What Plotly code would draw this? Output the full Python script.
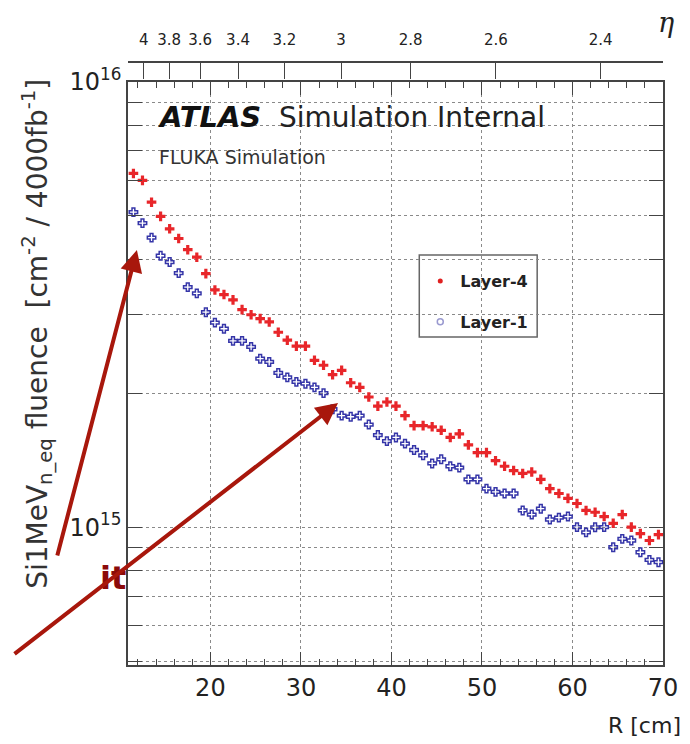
import numpy as np
import plotly.graph_objects as go

# Radial bin centres [cm]
r_cm = [11.5, 12.5, 13.5, 14.5, 15.5, 16.5, 17.5, 18.5, 19.5, 20.5,
        21.5, 22.5, 23.5, 24.5, 25.5, 26.5, 27.5, 28.5, 29.5, 30.5,
        31.5, 32.5, 33.5, 34.5, 35.5, 36.5, 37.5, 38.5, 39.5, 40.5,
        41.5, 42.5, 43.5, 44.5, 45.5, 46.5, 47.5, 48.5, 49.5, 50.5,
        51.5, 52.5, 53.5, 54.5, 55.5, 56.5, 57.5, 58.5, 59.5, 60.5,
        61.5, 62.5, 63.5, 64.5, 65.5, 66.5, 67.5, 68.5, 69.5]

# 1 MeV n_eq fluence for 4000 fb^-1 [cm^-2]
layer4 = [6.23e15, 6.01e15, 5.37e15, 4.99e15, 4.68e15, 4.45e15, 4.20e15, 4.04e15, 3.71e15, 3.41e15,
          3.33e15, 3.24e15, 3.08e15, 3.00e15, 2.94e15, 2.89e15, 2.74e15, 2.63e15, 2.55e15, 2.55e15,
          2.37e15, 2.31e15, 2.20e15, 2.25e15, 2.11e15, 2.06e15, 1.96e15, 1.87e15, 1.91e15, 1.87e15,
          1.78e15, 1.69e15, 1.69e15, 1.68e15, 1.65e15, 1.59e15, 1.62e15, 1.53e15, 1.47e15, 1.47e15,
          1.41e15, 1.37e15, 1.34e15, 1.32e15, 1.33e15, 1.28e15, 1.22e15, 1.19e15, 1.16e15, 1.13e15,
          1.09e15, 1.08e15, 1.056e15, 1.02e15, 1.067e15, 1.00e15, 9.67e14, 9.33e14, 9.62e14]

layer1 = [5.10e15, 4.82e15, 4.47e15, 4.07e15, 3.94e15, 3.72e15, 3.46e15, 3.35e15, 3.04e15, 2.88e15,
          2.79e15, 2.62e15, 2.62e15, 2.54e15, 2.39e15, 2.35e15, 2.22e15, 2.17e15, 2.12e15, 2.10e15,
          2.06e15, 2.00e15, 1.84e15, 1.78e15, 1.77e15, 1.78e15, 1.70e15, 1.61e15, 1.56e15, 1.59e15,
          1.54e15, 1.49e15, 1.45e15, 1.39e15, 1.42e15, 1.37e15, 1.36e15, 1.28e15, 1.28e15, 1.22e15,
          1.20e15, 1.19e15, 1.19e15, 1.09e15, 1.067e15, 1.10e15, 1.04e15, 1.05e15, 1.056e15, 1.00e15,
          9.73e14, 9.99e14, 1.00e15, 9.01e14, 9.41e14, 9.33e14, 8.78e14, 8.44e14, 8.34e14]

# Pseudorapidity scale on the top axis (z position of the disk, cm)
eta_ticks = [4.0, 3.8, 3.6, 3.4, 3.2, 3.0, 2.8, 2.6, 2.4]
eta_labels = ["4", "3.8", "3.6", "3.4", "3.2", "3", "2.8", "2.6", "2.4"]
z_disk_cm = 345.0

x_ticks = [20, 30, 40, 50, 60, 70]
y_major = [1e15, 1e16]
y_major_text = ["10<sup>15</sup>", "10<sup>16</sup>"]
y_minor = [m * 1e14 for m in range(5, 10)] + [m * 1e15 for m in range(2, 10)]

X_RANGE = [10.9, 70.0]
Y_RANGE = [np.log10(4.9e14), 16.0]

FONT = "DejaVu Sans"
FRAME = "#444444"
GRID = "#8a8a8a"
RED = "#e8262a"
BLUE = "#3535a8"
ARROW = "#a8170c"

W, H = 690, 744
L, R, T_AX, T_PLOT, B = 128, 668, 62, 82, 665


def px(x):
    return (x - L) / (R - L)


def py(y):
    return (B - y) / (B - T_AX)


eta_r = [z_disk_cm / np.sinh(e) for e in eta_ticks]

fig = go.Figure()

fig.add_trace(go.Scatter(
    x=r_cm, y=layer4, mode="markers", showlegend=False,
    marker=dict(symbol="cross", size=8, color=RED, line=dict(width=0)),
))
fig.add_trace(go.Scatter(
    x=r_cm, y=layer1, mode="markers", showlegend=False,
    marker=dict(symbol="cross-open", size=7, color=BLUE, line=dict(width=1.5, color=BLUE)),
))

# legend entries with small symbols
fig.add_trace(go.Scatter(
    x=[None], y=[None], mode="markers", name="Layer-4", legendgroup="a",
    marker=dict(symbol="circle", size=5, color="#e02020"),
))
fig.add_trace(go.Scatter(
    x=[None], y=[None], mode="markers", name="Layer-1", legendgroup="b",
    marker=dict(symbol="circle-open", size=6, color="#9a9ad0", line=dict(width=1.5)),
))

# carrier for the eta axis
fig.add_trace(go.Scatter(x=[None], y=[None], xaxis="x2", showlegend=False, hoverinfo="skip"))

fig.update_layout(
    width=W, height=H,
    margin=dict(l=L, r=W - R, t=T_AX, b=H - B),
    paper_bgcolor="white", plot_bgcolor="white",
    font=dict(family=FONT, color="#222222"),
    xaxis=dict(
        range=X_RANGE, tickvals=x_ticks, ticks="inside", ticklen=13, tickwidth=1.2,
        tickcolor=FRAME, showline=True, linecolor=FRAME, linewidth=1.5, mirror="allticks",
        showgrid=True, gridcolor=GRID, griddash="dot", gridwidth=1,
        tickfont=dict(size=24, family=FONT, color="#222222"), zeroline=False,
        minor=dict(dtick=2, tick0=0, ticks="inside", ticklen=6, tickcolor=FRAME, showgrid=False),
    ),
    xaxis2=dict(
        overlaying="x", side="top", anchor="free", position=1.0,
        range=X_RANGE, tickvals=eta_r, ticktext=eta_labels,
        ticks="inside", ticklen=16, tickcolor=FRAME, tickwidth=1.2,
        showline=True, linecolor=FRAME, linewidth=1.5, showgrid=False, zeroline=False,
        ticklabelstandoff=10,
        tickfont=dict(size=15, family=FONT, color="#222222"),
    ),
    yaxis=dict(
        type="log", range=Y_RANGE, domain=[0, (B - T_PLOT) / (B - T_AX)],
        tickvals=y_major, ticktext=y_major_text, ticks="inside", ticklen=14,
        tickwidth=1.2, tickcolor=FRAME, showline=True, linecolor=FRAME, linewidth=1.5,
        mirror="allticks", showgrid=True, gridcolor=GRID, griddash="dot", gridwidth=1,
        tickfont=dict(size=24, family=FONT, color="#222222"), zeroline=False,
        minor=dict(tickvals=y_minor, ticks="inside", ticklen=7, tickcolor=FRAME,
                   showgrid=True, gridcolor=GRID, griddash="dot", gridwidth=1),
    ),
    legend=dict(
        x=px(423), y=py(264), xanchor="left", yanchor="top",
        bgcolor="rgba(0,0,0,0)", borderwidth=0, tracegroupgap=17,
        font=dict(size=16, family=FONT, color="#222222", weight="bold"),
    ),
)

# legend frame
fig.add_shape(type="rect", xref="paper", yref="paper",
              x0=px(422), x1=px(541), y0=py(337), y1=py(255),
              line=dict(color="#666666", width=1.5), fillcolor="white", layer="below")

ann = []
ann.append(dict(x=px(156), y=py(117), text="<b><i>ATLAS</i></b>", xanchor="left", yanchor="middle",
                font=dict(size=29, family=FONT, color="#111111")))
ann.append(dict(x=px(278), y=py(117), text="Simulation Internal", xanchor="left", yanchor="middle",
                font=dict(size=28, family=FONT, color="#222222")))
ann.append(dict(x=px(157), y=py(157), text="FLUKA Simulation", xanchor="left", yanchor="middle",
                font=dict(size=19, family=FONT, color="#333333")))
ann.append(dict(x=px(37), y=py(334), textangle=-90,
                text="Si1MeV<sub>n_eq</sub> fluence  [cm<sup>-2</sup> / 4000fb<sup>-1</sup>]",
                xanchor="center", yanchor="middle", font=dict(size=28, family=FONT, color="#333333")))
ann.append(dict(x=px(688), y=py(725), text="R [cm]", xanchor="right", yanchor="middle",
                font=dict(size=22, family=FONT, color="#222222")))
ann.append(dict(x=px(671), y=py(22), text="<i>η</i>", xanchor="center", yanchor="middle",
                font=dict(size=27, family="DejaVu Serif", color="#222222")))
ann.append(dict(x=px(128), y=py(578), text="<b>it</b>", xanchor="right", yanchor="middle",
                font=dict(size=32, family=FONT, color="#8b0a0a")))
# arrows
ann.append(dict(x=px(137), y=py(250), ax=57 - 137, ay=557 - 250, axref="pixel", ayref="pixel",
                text="", showarrow=True, arrowhead=2, arrowsize=1.1, arrowwidth=4, arrowcolor=ARROW))
ann.append(dict(x=px(340), y=py(403), ax=15 - 340, ay=655 - 403, axref="pixel", ayref="pixel",
                text="", showarrow=True, arrowhead=2, arrowsize=1.1, arrowwidth=4, arrowcolor=ARROW))
for a in ann:
    a.setdefault("xref", "paper")
    a.setdefault("yref", "paper")
    a.setdefault("showarrow", False)
fig.update_layout(annotations=ann)

fig.write_html("out.html")
